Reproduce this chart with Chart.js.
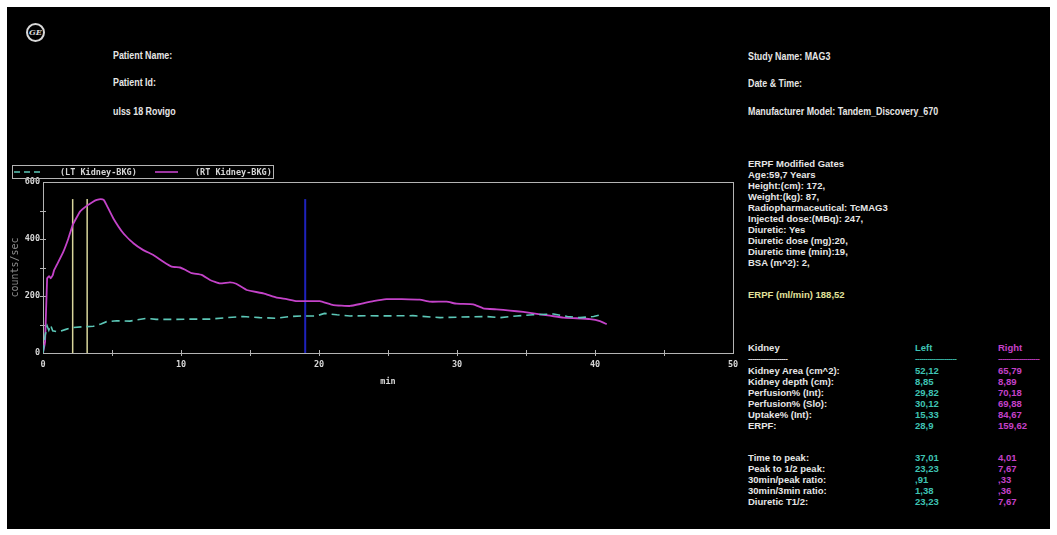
<!DOCTYPE html>
<html>
<head>
<meta charset="utf-8">
<script src="https://cdn.jsdelivr.net/npm/chart.js@4/dist/chart.umd.min.js"></script>
<style>
  html, body { margin: 0; padding: 0; width: 1057px; height: 535px; overflow: hidden; background: #fff; }
  #screen { position: absolute; left: 7px; top: 7px; width: 1043px; height: 522px; background: #000; }
  #renogram { position: absolute; left: 0; top: 0; }
  .t { position: absolute; white-space: nowrap; color: #e6e6e6; font: bold 9.5px "Liberation Sans", Arial, sans-serif; line-height: 11px; }
  .hd { font-size: 10.5px; transform: scaleX(0.845); transform-origin: 0 50%; }
  .erpf { color: #e2e29c; }
  .lt { color: #3fc4b4; }
  .rt { color: #c540c8; }
  .dash { font-size: 8px; letter-spacing: -0.6px; }
  #logo { position: absolute; left: 26px; top: 23px; width: 15px; height: 15px; border: 2px solid #d8d8d8; border-radius: 50%;
          color: #d8d8d8; font: italic bold 8px "DejaVu Serif", serif; text-align: center; line-height: 15px; }
</style>
</head>
<body>
<div id="screen"></div>
<div id="logo">GE</div>

<div class="t hd" style="left:113px;top:50px">Patient Name:</div>
<div class="t hd" style="left:113px;top:77px">Patient Id:</div>
<div class="t hd" style="left:113px;top:106px">ulss 18 Rovigo</div>

<div class="t hd" style="left:748px;top:51px">Study Name: MAG3</div>
<div class="t hd" style="left:748px;top:78px">Date &amp; Time:</div>
<div class="t hd" style="left:748px;top:106px">Manufacturer Model: Tandem_Discovery_670</div>

<div class="t" style="left:748px;top:158px">ERPF Modified Gates</div>
<div class="t" style="left:748px;top:169px">Age:59,7 Years</div>
<div class="t" style="left:748px;top:180px">Height:(cm): 172,</div>
<div class="t" style="left:748px;top:191px">Weight:(kg): 87,</div>
<div class="t" style="left:748px;top:202px">Radiopharmaceutical: TcMAG3</div>
<div class="t" style="left:748px;top:213px">Injected dose:(MBq): 247,</div>
<div class="t" style="left:748px;top:224px">Diuretic: Yes</div>
<div class="t" style="left:748px;top:235px">Diuretic dose (mg):20,</div>
<div class="t" style="left:748px;top:246px">Diuretic time (min):19,</div>
<div class="t" style="left:748px;top:257px">BSA (m^2): 2,</div>
<div class="t erpf" style="left:748px;top:289px">ERPF (ml/min) 188,52</div>

<div id="table"></div>

<canvas id="renogram" width="1057" height="535"></canvas>

<script>
// Background-corrected renogram curves (counts/sec against minutes)
const ltTime   = [0, 0.15, 0.3, 0.42, 0.55, 0.7, 1.0, 1.2, 1.6, 2.08, 2.92, 3.65, 4.2, 4.61, 5.34, 6.3, 7.5, 8.2, 9.65, 10.9,
                  12.1, 13.3, 14.5, 15.7, 16.9, 17.9, 18.9, 19.8, 20.4, 21.3, 22.25, 23.7, 24.4, 26.8, 28.77, 30.2, 32.15, 33.1, 34.3, 35.5,
                  37.0, 38.0, 38.9, 39.9, 40.6];
const ltCounts = [0, 60, 95, 80, 98, 78, 75, 76, 82, 89, 92, 94, 102, 110, 113, 112, 122, 118, 118, 119,
                  119, 124, 128, 124, 122, 128, 130, 130, 139, 134, 130, 131, 130, 131, 124, 126, 128, 124, 130, 134,
                  137, 128, 124, 128, 136];

const rtTime   = [0, 0.15, 0.3, 0.45, 0.55, 0.7, 0.8, 1.0, 1.47, 1.84, 2.15, 2.68, 3.19, 3.6, 3.9, 4.18, 4.4, 4.61, 5.1, 5.82,
                  6.55, 7.27, 8.0, 8.72, 9.32, 9.93, 10.3, 10.77, 11.5, 12.1, 12.83, 13.55, 14.0, 14.76, 15.97, 16.93, 17.66, 18.38, 19.2, 20.07,
                  21.04, 22.25, 23.0, 23.93, 24.9, 26.0, 27.3, 28.04, 29.25, 29.97, 31.18, 31.9, 32.87, 33.84, 34.8, 35.78, 36.74, 37.7, 38.67, 39.64,
                  40.36, 40.85];
const rtCounts = [0, 40, 262, 270, 262, 272, 290, 309, 355, 402, 449, 496, 517, 530, 537, 540, 537, 519, 472, 420,
                  385, 361, 344, 320, 303, 300, 292, 280, 274, 256, 244, 248, 243, 221, 209, 194, 189, 182, 182, 182,
                  168, 165, 172, 182, 189, 189, 187, 180, 180, 173, 171, 157, 153, 149, 144, 137, 131, 124, 122, 119,
                  112, 101];

const seriesLabels = ['(LT Kidney-BKG)', '(RT Kidney-BKG)'];

// Gate markers (min) and their height (counts/sec)
const markerTimes = [2.15, 3.2, 19];
const markerTop = 540;

// Axis labels
const xLabelValues = [0, 10, 20, 30, 40, 50];
const yLabelValues = [0, 200, 400, 600];
const xMinorStep = 5;
const yMinorStep = 100;

// Quantitative results table
const tableRows = ['Kidney Area (cm^2):', 'Kidney depth (cm):', 'Perfusion% (Int):', 'Perfusion% (Slo):', 'Uptake% (Int):', 'ERPF:'];
const leftValues = ['52,12', '8,85', '29,82', '30,12', '15,33', '28,9'];
const rightValues = ['65,79', '8,89', '70,18', '69,88', '84,67', '159,62'];
const timingRows = ['Time to peak:', 'Peak to 1/2 peak:', '30min/peak ratio:', '30min/3min ratio:', 'Diuretic T1/2:'];
const leftTiming = ['37,01', '23,23', ',91', '1,38', '23,23'];
const rightTiming = ['4,01', '7,67', ',33', ',36', '7,67'];

// Build the results table
(function () {
  const host = document.getElementById('table');
  const add = (txt, x, y, cls) => {
    const d = document.createElement('div');
    d.className = 't' + (cls ? ' ' + cls : '');
    d.style.left = x + 'px';
    d.style.top = y + 'px';
    d.textContent = txt;
    host.appendChild(d);
  };
  add('Kidney', 748, 342);
  add('Left', 915, 342, 'lt');
  add('Right', 998, 342, 'rt');
  add('-'.repeat(19), 748, 353, 'dash');
  add('-'.repeat(20), 915, 353, 'dash lt');
  add('-'.repeat(20), 998, 353, 'dash rt');
  tableRows.forEach((r, i) => {
    const y = 365 + i * 11;
    add(r, 748, y);
    add(leftValues[i], 915, y, 'lt');
    add(rightValues[i], 998, y, 'rt');
  });
  timingRows.forEach((r, i) => {
    const y = 452 + i * 11;
    add(r, 748, y);
    add(leftTiming[i], 915, y, 'lt');
    add(rightTiming[i], 998, y, 'rt');
  });
})();

const zip = (xs, ys) => xs.map((x, i) => ({ x: x, y: ys[i] }));

const MONO = '"DejaVu Sans Mono", "Liberation Mono", monospace';
const AXIS_GREY = '#b4b4b4';
const LABEL_GREY = '#d6d6d6';

const markerColors = ['#d9d69c', '#d9d69c', '#1e22bc'];
const markerSets = markerTimes.map((t, i) => ({
  label: 'marker' + i,
  data: [{ x: t, y: 0 }, { x: t, y: markerTop }],
  borderColor: markerColors[i],
  borderWidth: i === 2 ? 2 : 1.5,
  pointRadius: 0
}));

// Plot frame with cross-shaped tick marks
const framePlugin = {
  id: 'frame',
  beforeDatasetsDraw(chart) {
    const { ctx, chartArea: a, scales } = chart;
    ctx.save();
    ctx.strokeStyle = AXIS_GREY;
    ctx.lineWidth = 1;
    ctx.strokeRect(Math.round(a.left) + 0.5, Math.round(a.top) + 0.5, Math.round(a.right - a.left), Math.round(a.bottom - a.top));
    ctx.beginPath();
    for (let v = scales.x.min + xMinorStep; v < scales.x.max; v += xMinorStep) {
      const px = Math.round(scales.x.getPixelForValue(v)) + 0.5;
      ctx.moveTo(px, a.bottom - 3);
      ctx.lineTo(px, a.bottom + 3);
    }
    for (let v = scales.y.min + yMinorStep; v < scales.y.max; v += yMinorStep) {
      const py = Math.round(scales.y.getPixelForValue(v)) + 0.5;
      ctx.moveTo(a.left - 3, py);
      ctx.lineTo(a.left + 3, py);
    }
    ctx.stroke();
    ctx.restore();
  }
};

// Boxed legend in the upper left corner
const legendPlugin = {
  id: 'boxLegend',
  afterDraw(chart) {
    const { ctx } = chart;
    ctx.save();
    ctx.strokeStyle = AXIS_GREY;
    ctx.lineWidth = 1;
    ctx.strokeRect(12.5, 165.5, 261, 13);
    const samples = [[14, 40, 60], [155, 178, 195]];
    ctx.font = 'bold 8.5px ' + MONO;
    ctx.textBaseline = 'middle';
    ctx.fillStyle = LABEL_GREY;
    samples.forEach((s, i) => {
      const ds = chart.data.datasets[i];
      ctx.beginPath();
      ctx.strokeStyle = ds.borderColor;
      ctx.lineWidth = 1.6;
      ctx.setLineDash(i === 0 ? [6, 4] : []);
      ctx.moveTo(s[0], 172);
      ctx.lineTo(s[1], 172);
      ctx.stroke();
      ctx.setLineDash([]);
      ctx.fillText(ds.label, s[2], 172.5);
    });
    ctx.restore();
  }
};

new Chart(document.getElementById('renogram'), {
  type: 'line',
  data: {
    datasets: [
      { label: seriesLabels[0], data: zip(ltTime, ltCounts), borderColor: '#5cc7b7', borderWidth: 1.6,
        borderDash: [8, 5], pointRadius: 0, tension: 0 },
      { label: seriesLabels[1], data: zip(rtTime, rtCounts), borderColor: '#c443c9', borderWidth: 1.8,
        pointRadius: 0, tension: 0.1 },
      ...markerSets
    ]
  },
  options: {
    responsive: false,
    animation: false,
    events: [],
    layout: { padding: { left: 0, top: 182, right: 324, bottom: 142 } },
    plugins: { legend: { display: false }, tooltip: { enabled: false } },
    scales: {
      x: {
        type: 'linear', min: 0, max: 50,
        afterFit(s) { s.height = 40; },
        afterBuildTicks(s) { s.ticks = xLabelValues.map(v => ({ value: v })); },
        grid: { display: false, drawTicks: false, tickLength: 0 },
        border: { display: false },
        ticks: { color: LABEL_GREY, font: { family: MONO, size: 8.5, weight: 'bold' }, padding: 7, maxRotation: 0,
                 callback: v => String(v) },
        title: { display: true, text: 'min', color: LABEL_GREY, font: { family: MONO, size: 8.5, weight: 'bold' },
                 padding: { top: 6, bottom: 6 } }
      },
      y: {
        min: 0, max: 600,
        afterFit(s) { s.width = 43; },
        afterBuildTicks(s) { s.ticks = yLabelValues.map(v => ({ value: v })); },
        grid: { display: false, drawTicks: false, tickLength: 0 },
        border: { display: false },
        ticks: { color: LABEL_GREY, font: { family: MONO, size: 8.5, weight: 'bold' }, padding: 3,
                 callback: v => String(v) },
        title: { display: true, text: 'counts/sec', color: '#8c8c8c', font: { family: MONO, size: 10 },
                 padding: { top: 9, bottom: 0 } }
      }
    }
  },
  plugins: [framePlugin, legendPlugin]
});
</script>
</body>
</html>
